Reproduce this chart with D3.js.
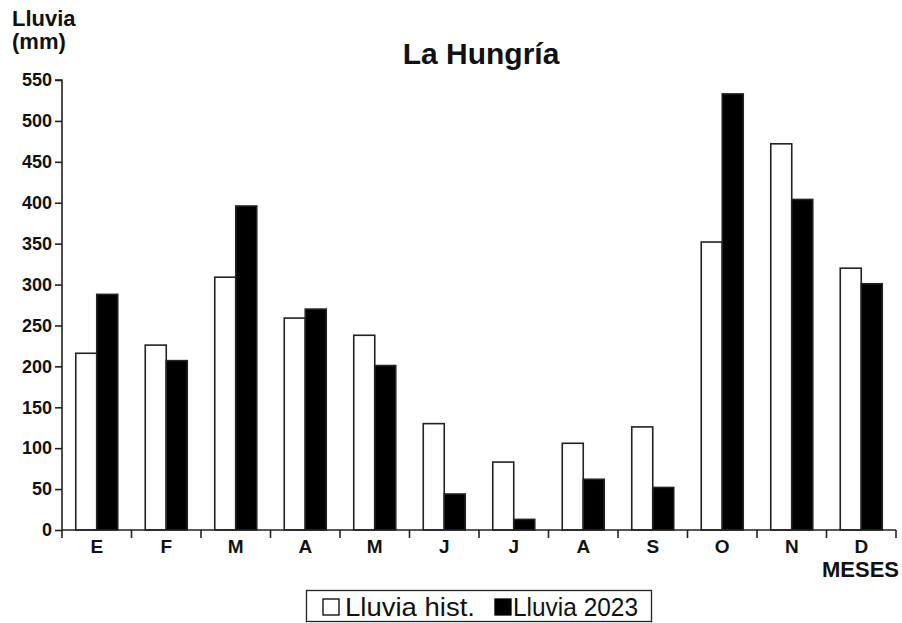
<!DOCTYPE html>
<html>
<head>
<meta charset="utf-8">
<script src="https://cdn.jsdelivr.net/npm/d3@7"></script>
<style>
  html, body { margin: 0; padding: 0; background: #fff; }
  svg { display: block; font-family: "Liberation Sans", Arial, sans-serif; }
</style>
</head>
<body>
<svg id="chart" width="902" height="623"></svg>
<script>
const months = ["E", "F", "M", "A", "M", "J", "J", "A", "S", "O", "N", "D"];
const histValues = [216, 226, 309, 259, 238, 130, 83, 106, 126, 352, 472, 320];
const values2023 = [288, 207, 396, 270, 201, 44, 13, 62, 52, 533, 404, 301];
const yTicks = [0, 50, 100, 150, 200, 250, 300, 350, 400, 450, 500, 550];
const seriesNames = ["Lluvia hist.", "Lluvia 2023"];
const seriesFill = ["#ffffff", "#000000"];

(function () {
const svg = d3.select("#chart");
const mLeft = 62, mRight = 896, mTop = 80, mBottom = 530;

const idx = months.map((d, i) => i);
const x = d3.scaleBand().domain(idx).range([mLeft, mRight]).paddingInner(0).paddingOuter(0);
const xs = d3.scaleBand().domain([0, 1]).range([0, x.bandwidth()]).paddingInner(0).paddingOuter(0.655);
const y = d3.scaleLinear().domain([0, 550]).range([mBottom, mTop]);

// bars
const data = idx.map(i => ({ i, vals: [histValues[i], values2023[i]] }));
const groups = svg.append("g").selectAll("g").data(data).join("g")
  .attr("transform", d => `translate(${x(d.i)},0)`);
groups.selectAll("rect").data(d => d.vals.map((v, s) => ({ v, s }))).join("rect")
  .attr("x", d => xs(d.s))
  .attr("width", xs.bandwidth())
  .attr("y", d => y(d.v))
  .attr("height", d => y(0) - y(d.v))
  .attr("fill", d => seriesFill[d.s])
  .attr("stroke", "#222")
  .attr("stroke-width", 1.6);

// y axis
const yAxis = d3.axisLeft(y).tickValues(yTicks).tickSize(7).tickPadding(3);
const gy = svg.append("g").attr("transform", `translate(${mLeft},0)`).call(yAxis);
gy.select(".domain").attr("stroke", "#222").attr("stroke-width", 1.6).attr("d", `M-7,${mTop}H0V${mBottom}`);
gy.selectAll(".tick line").attr("stroke", "#222").attr("stroke-width", 1.6);
gy.selectAll(".tick text").attr("font-size", 18).attr("font-weight", "bold").attr("fill", "#111")
  .attr("font-family", "'Liberation Sans', Arial, sans-serif");

// x axis line and boundary ticks
const boundaries = idx.map(i => x(i)).concat([mRight]);
svg.append("line").attr("x1", mLeft).attr("x2", mRight).attr("y1", mBottom).attr("y2", mBottom)
  .attr("stroke", "#222").attr("stroke-width", 1.6);
svg.append("g").selectAll("line").data(boundaries).join("line")
  .attr("x1", d => d).attr("x2", d => d).attr("y1", mBottom).attr("y2", mBottom + 8)
  .attr("stroke", "#222").attr("stroke-width", 1.6);
svg.append("g").selectAll("text").data(idx).join("text")
  .attr("x", i => x(i) + x.bandwidth() / 2)
  .attr("y", 553)
  .attr("text-anchor", "middle")
  .attr("font-size", 19).attr("font-weight", "bold").attr("fill", "#111")
  .text(i => months[i]);

// axis titles
svg.append("text").attr("x", 12).attr("y", 26).attr("font-size", 22).attr("font-weight", "bold").attr("fill", "#111").text("Lluvia");
svg.append("text").attr("x", 12).attr("y", 49).attr("font-size", 22).attr("font-weight", "bold").attr("fill", "#111").text("(mm)");
svg.append("text").attr("x", 899).attr("y", 577).attr("text-anchor", "end").attr("font-size", 22).attr("font-weight", "bold").attr("fill", "#111").text("MESES");

// title
svg.append("text").attr("x", 481).attr("y", 64).attr("text-anchor", "middle").attr("font-size", 30).attr("font-weight", "bold").attr("fill", "#111").text("La Hungría");

// legend
svg.append("rect").attr("x", 306.5).attr("y", 590.5).attr("width", 345).attr("height", 31)
  .attr("fill", "#fff").attr("stroke", "#222").attr("stroke-width", 1.3);
const legX = [323, 495];
const legTextX = [345, 513];
const legTextW = [130, 125];
seriesNames.forEach((name, s) => {
  svg.append("rect").attr("x", legX[s]).attr("y", 599).attr("width", 16).attr("height", 16)
    .attr("fill", seriesFill[s]).attr("stroke", "#000").attr("stroke-width", 1.3);
  svg.append("text").attr("x", legTextX[s]).attr("y", 615.5).attr("font-size", 25).attr("fill", "#111")
    .attr("textLength", legTextW[s]).attr("lengthAdjust", "spacingAndGlyphs").text(name);
});
})();
</script>
</body>
</html>
